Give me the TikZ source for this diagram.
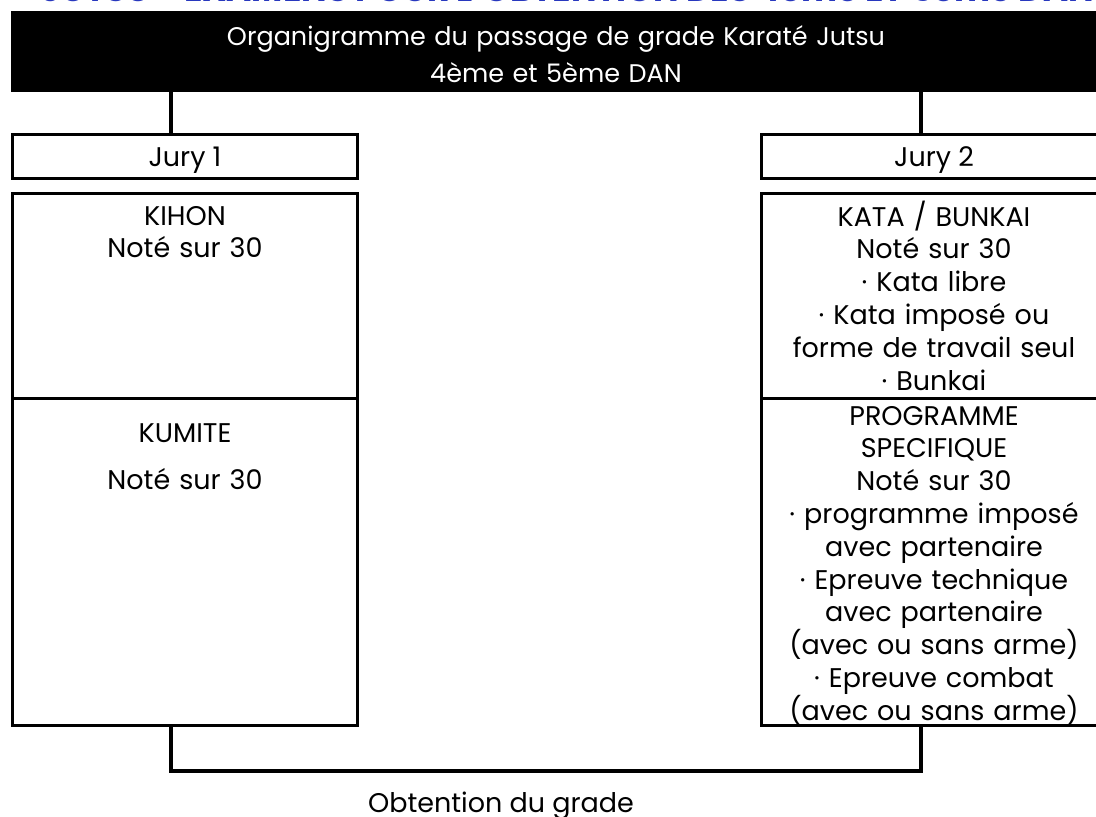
\documentclass[tikz,border=0pt]{standalone}
\usepackage{fontspec}
\setmainfont{Poppins}
\definecolor{titleblue}{RGB}{40,56,190}
\begin{document}
\begin{tikzpicture}[x=1pt,y=-1pt,
  box/.style={draw, line width=3pt, minimum width=345pt, inner sep=0pt},
  body/.style={font=\fontsize{27}{32.8}\selectfont, align=center, text width=340pt, inner sep=0pt, anchor=base},
  headtext/.style={font=\fontsize{25.5}{36.5}\selectfont, text=white, align=center, text width=900pt, inner sep=0pt, anchor=base},
  link/.style={line width=3.5pt}]
\useasboundingbox (0,0) rectangle (1096,817);
\clip (0,0) rectangle (1096,817);
% cut-off title above the chart
\node[anchor=base east, inner sep=0pt, text=titleblue, font=\fontsize{34}{34}\selectfont\bfseries] (title) at (1094,1) {JUTSU - EXAMENS POUR L'OBTENTION DES 4ème ET 5ème DAN};
% header
\node[fill=black, minimum width=1098pt, minimum height=81pt, inner sep=0pt] (head) at (560,51.5) {};
\node[headtext] (headtxt) at (556,45.5) {Organigramme du passage de grade Karaté Jutsu\\4ème et 5ème DAN};
% connector x positions
\coordinate (cl) at (171,0);
\coordinate (cr) at (921,0);
\coordinate (bot) at (0,771);
% jury boxes
\node[box, minimum height=44pt, text height=19pt, text depth=0pt, font=\fontsize{27}{32.8}\selectfont] (jury1) at (185,156.5) {Jury 1};
\node[box, minimum height=44pt, text height=19pt, text depth=0pt, font=\fontsize{27}{32.8}\selectfont] (jury2) at (934,156.5) {Jury 2};
% left column
\node[box, minimum height=204.5pt] (kihon) at (185,295.75) {};
\node[box, minimum height=327.5pt] (kumite) at (185,561.75) {};
\node[body] (kihontxt) at (185,225) {KIHON\\Noté sur 30};
\node[body] (kumitetxt) at (185,442) {KUMITE\\[14.2pt]Noté sur 30};
% right column
\node[box, minimum height=204.5pt] (kata) at (934,295.75) {};
\node[box, minimum height=327.5pt] (prog) at (934,561.75) {};
\node[body] (katatxt) at (934,226) {KATA / BUNKAI\\Noté sur 30\\· Kata libre\\· Kata imposé ou\\forme de travail seul\\· Bunkai};
\node[body] (progtxt) at (934,425) {PROGRAMME\\SPECIFIQUE\\Noté sur 30\\· programme imposé\\avec partenaire\\· Epreuve technique\\avec partenaire\\(avec ou sans arme)\\· Epreuve combat\\(avec ou sans arme)};
% result
\node[anchor=base, inner sep=0pt, font=\fontsize{27}{32.8}\selectfont] (result) at (501,812) {Obtention du grade};
% connectors
\draw[link] (head.south -| cl) -- (jury1.north -| cl);
\draw[link] (head.south -| cr) -- (jury2.north -| cr);
\draw[link] (kumite.south -| cl) -- (bot -| cl) -- (bot -| cr) -- (prog.south -| cr);
\end{tikzpicture}
\end{document}
